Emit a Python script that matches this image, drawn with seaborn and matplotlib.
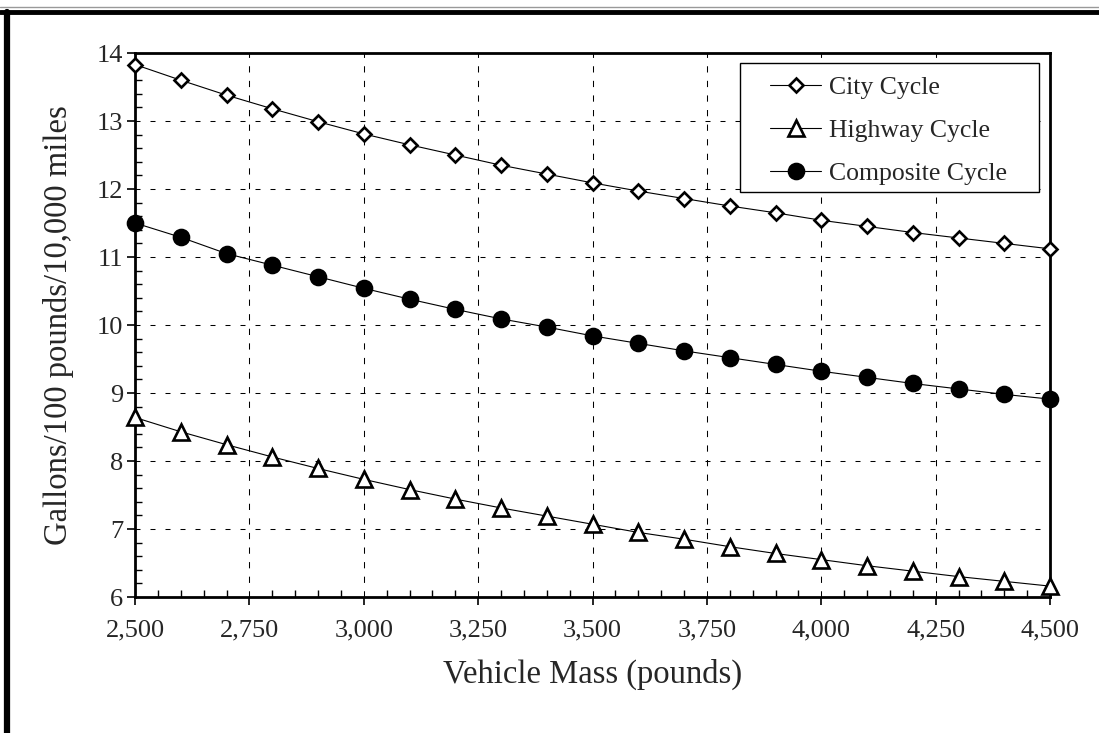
import matplotlib
matplotlib.use("Agg")
import matplotlib.pyplot as plt
from matplotlib.patches import Rectangle
from matplotlib.lines import Line2D
from matplotlib.ticker import MultipleLocator, StrMethodFormatter
import seaborn as sns
import pandas as pd

# Vehicle mass (pounds)
mass = [2500, 2600, 2700, 2800, 2900, 3000, 3100, 3200, 3300, 3400, 3500,
        3600, 3700, 3800, 3900, 4000, 4100, 4200, 4300, 4400, 4500]

# Gallons per 100 pounds per 10,000 miles, by test cycle
city = [13.83, 13.60, 13.38, 13.18, 12.99, 12.81, 12.65, 12.50, 12.35, 12.22, 12.09,
        11.97, 11.86, 11.75, 11.65, 11.54, 11.45, 11.36, 11.28, 11.20, 11.12]
highway = [8.64, 8.43, 8.24, 8.06, 7.89, 7.73, 7.58, 7.44, 7.31, 7.19, 7.07,
           6.95, 6.85, 6.74, 6.64, 6.55, 6.46, 6.38, 6.30, 6.23, 6.16]
composite = [11.50, 11.29, 11.05, 10.88, 10.71, 10.54, 10.38, 10.23, 10.09, 9.97, 9.84,
             9.73, 9.62, 9.52, 9.42, 9.32, 9.23, 9.14, 9.06, 8.98, 8.91]

series_names = ["City Cycle", "Highway Cycle", "Composite Cycle"]

sns.set_theme(style="white")
plt.rcParams["font.family"] = ["Liberation Serif", "DejaVu Serif"]
plt.rcParams["lines.scale_dashes"] = False

fig = plt.figure(figsize=(10.99, 7.33), dpi=100)
ax = fig.add_axes([135 / 1099, (733 - 597) / 733, 915 / 1099, 544 / 733])

df = pd.DataFrame({"mass": mass, "City Cycle": city,
                   "Highway Cycle": highway, "Composite Cycle": composite})

styles = {
    "City Cycle": dict(marker="D", markersize=7.4, markerfacecolor="white"),
    "Highway Cycle": dict(marker="^", markersize=11, markerfacecolor="white"),
    "Composite Cycle": dict(marker="o", markersize=10.8, markerfacecolor="black"),
}

for name in series_names:
    sns.lineplot(data=df, x="mass", y=name, ax=ax, color="black", linewidth=0.8,
                 markeredgecolor="black", markeredgewidth=1.9, clip_on=False,
                 zorder=5, **styles[name])

ax.set_xlim(2500, 4500)
ax.set_ylim(6, 14)
ax.xaxis.set_major_locator(MultipleLocator(250))
ax.xaxis.set_minor_locator(MultipleLocator(50))
ax.yaxis.set_major_locator(MultipleLocator(1))
ax.yaxis.set_minor_locator(MultipleLocator(0.2))
ax.xaxis.set_major_formatter(StrMethodFormatter("{x:,.0f}"))

ax.xaxis.grid(True, which="major", color="black", linewidth=0.75, dashes=(4.5, 6.0))
ax.yaxis.grid(True, which="major", color="black", linewidth=0.75, dashes=(3.6, 7.2))
ax.set_axisbelow(True)

for sp in ax.spines.values():
    sp.set_visible(True)
    sp.set_color("black")
    sp.set_linewidth(2.0)

ax.tick_params(axis="both", which="major", direction="out", length=5.5, width=1.2,
               color="black", labelsize=19, pad=3, bottom=True, left=True)
ax.tick_params(axis="x", which="major", pad=11)
ax.tick_params(axis="both", which="minor", direction="in", length=5, width=1.0,
               color="black", bottom=True, left=True)

ax.set_xlabel("Vehicle Mass (pounds)", fontsize=23.5, labelpad=12)
ax.set_ylabel("Gallons/100 pounds/10,000 miles", fontsize=23.5, labelpad=16)

# legend box
ax.add_patch(Rectangle((0.661, 0.744), 0.327, 0.238, transform=ax.transAxes,
                       facecolor="white", edgecolor="black", linewidth=1.0, zorder=8))
handles = [Line2D([], [], color="black", linewidth=0.8, markeredgecolor="black",
                  markeredgewidth=1.9, **styles[n]) for n in series_names]
leg = ax.legend(handles, series_names, loc="upper left", bbox_to_anchor=(0.694, 0.958),
                frameon=False, fontsize=18.5, handlelength=2.0, handletextpad=0.3,
                labelspacing=0.78, borderpad=0, borderaxespad=0)
leg.set_zorder(9)

# page border
fig.add_artist(Line2D([0, 1], [1 - 7 / 733, 1 - 7 / 733], color="#999999", linewidth=1.0,
                      transform=fig.transFigure))
fig.add_artist(Line2D([0.0, 1], [1 - 11.5 / 733, 1 - 11.5 / 733], color="black",
                      linewidth=3.5, transform=fig.transFigure))
fig.add_artist(Line2D([7 / 1099, 7 / 1099], [0, 1 - 11.5 / 733], color="black",
                      linewidth=4.5, transform=fig.transFigure))

fig.savefig("out.png", dpi=100)
